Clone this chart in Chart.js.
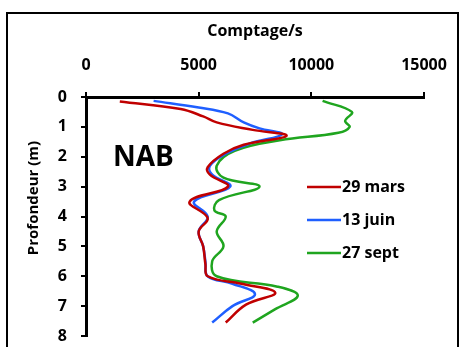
<!DOCTYPE html>
<html>
<head>
<meta charset="utf-8">
<script src="https://cdn.jsdelivr.net/npm/chart.js@4.4.0/dist/chart.umd.min.js"></script>
<style>
  html, body { margin: 0; padding: 0; background: #fff; }
</style>
</head>
<body>
<canvas id="profil" width="459" height="347"></canvas>
<script>
// series names
const seriesLabels = ['29 mars', '13 juin', '27 sept'];
const seriesColors = ['#c00000', '#1f5fff', '#1fa51f'];

// axis ticks
const countTicks = [0, 5000, 10000, 15000];
const depthTicks = [0, 1, 2, 3, 4, 5, 6, 7, 8];

// 29 mars : depth (m) / counts per second
const marsDepth = [0.15, 0.4, 0.65, 0.85, 1.1, 1.3, 1.6, 1.9, 2.35, 2.6, 3.0, 3.5, 4.05, 4.5, 5.0, 5.6, 6.0, 6.25, 6.55, 6.95, 7.55];
const marsCount = [1500, 4200, 5200, 5800, 7400, 8900, 7000, 6100, 5400, 5500, 6300, 4600, 5400, 5000, 5200, 5300, 5400, 6900, 8400, 7100, 6200];

// 13 juin
const juinDepth = [0.13, 0.35, 0.55, 0.85, 1.05, 1.25, 1.55, 1.9, 2.3, 2.6, 3.0, 3.5, 4.0, 4.5, 5.0, 5.5, 6.0, 6.25, 6.6, 7.0, 7.55];
const juinCount = [3000, 5000, 6300, 7000, 7700, 8700, 7300, 6200, 5500, 5600, 6400, 4800, 5400, 5000, 5200, 5300, 5400, 6500, 7500, 6500, 5600];

// 27 sept
const septDepth = [0.13, 0.5, 0.8, 1.0, 1.2, 1.45, 1.8, 2.3, 2.7, 3.0, 3.45, 3.8, 4.0, 4.5, 5.0, 5.5, 6.0, 6.35, 6.65, 7.1, 7.55];
const septCount = [10500, 11800, 11500, 11700, 11200, 8600, 6600, 5800, 6100, 7700, 5900, 5700, 6200, 5800, 6100, 5600, 5800, 8500, 9400, 8400, 7400];

const depths = [marsDepth, juinDepth, septDepth];
const counts = [marsCount, juinCount, septCount];

const FONT = '"Open Sans"';

const datasets = seriesLabels.map((label, i) => ({
    label: label,
    data: counts[i].map((c, k) => ({ x: c, y: depths[i][k] })),
    borderColor: seriesColors[i],
    backgroundColor: seriesColors[i],
    borderWidth: 2.5,
    pointRadius: 0,
    showLine: true,
    tension: 0.4,
    fill: false
}));

// frame, NAB label, y title and legend drawn on top
const decor = {
    id: 'decor',
    afterDraw(chart) {
        const ctx = chart.ctx;
        ctx.save();
        ctx.strokeStyle = '#000';
        ctx.lineWidth = 2;
        ctx.strokeRect(7, 13, 451, 400);

        ctx.fillStyle = '#000';
        ctx.font = 'bold 28px ' + FONT;
        ctx.textAlign = 'left';
        ctx.textBaseline = 'middle';
        ctx.fillText('NAB', 113, 158);

        ctx.save();
        ctx.translate(34, 198);
        ctx.rotate(-Math.PI / 2);
        ctx.font = 'bold 15px ' + FONT;
        ctx.textAlign = 'center';
        ctx.fillText('Profondeur (m)', 0, 0);
        ctx.restore();

        ctx.font = 'bold 16px ' + FONT;
        chart.data.datasets.forEach((ds, i) => {
            const y = 187 + i * 33;
            ctx.strokeStyle = ds.borderColor;
            ctx.lineWidth = 2.5;
            ctx.beginPath();
            ctx.moveTo(307, y);
            ctx.lineTo(341, y);
            ctx.stroke();
            ctx.fillStyle = '#000';
            ctx.fillText(ds.label, 342, y);
        });
        ctx.restore();
    }
};

const tickFont = { family: FONT, size: 16, weight: 'bold' };

new Chart(document.getElementById('profil'), {
    type: 'scatter',
    data: { datasets: datasets },
    plugins: [decor],
    options: {
        responsive: false,
        animation: false,
        layout: { padding: { left: 0, top: 0, right: 35, bottom: 11 } },
        plugins: {
            legend: { display: false },
            tooltip: { enabled: false }
        },
        scales: {
            x: {
                position: 'top',
                min: 0,
                max: 15000,
                afterBuildTicks: (s) => { s.ticks = countTicks.map(v => ({ value: v })); },
                afterFit: (s) => { s.height = 97; s.paddingLeft = 0; s.paddingRight = 0; },
                ticks: {
                    padding: 17,
                    color: '#000',
                    font: tickFont,
                    callback: (v) => String(v)
                },
                grid: { drawOnChartArea: false, color: '#000', lineWidth: 2, tickLength: 5 },
                border: { color: '#000', width: 3 },
                title: {
                    display: true,
                    text: 'Comptage/s',
                    color: '#000',
                    padding: { top: 22 },
                    font: tickFont
                }
            },
            y: {
                reverse: true,
                min: 0,
                max: 8,
                afterBuildTicks: (s) => { s.ticks = depthTicks.map(v => ({ value: v })); },
                afterFit: (s) => { s.width = 86; s.paddingTop = 0; s.paddingBottom = 0; },
                ticks: {
                    padding: 14,
                    color: '#000',
                    font: tickFont,
                    callback: (v) => String(v)
                },
                grid: { drawOnChartArea: false, color: '#000', lineWidth: 2, tickLength: 5 },
                border: { color: '#000', width: 3 }
            }
        }
    }
});
</script>
</body>
</html>
